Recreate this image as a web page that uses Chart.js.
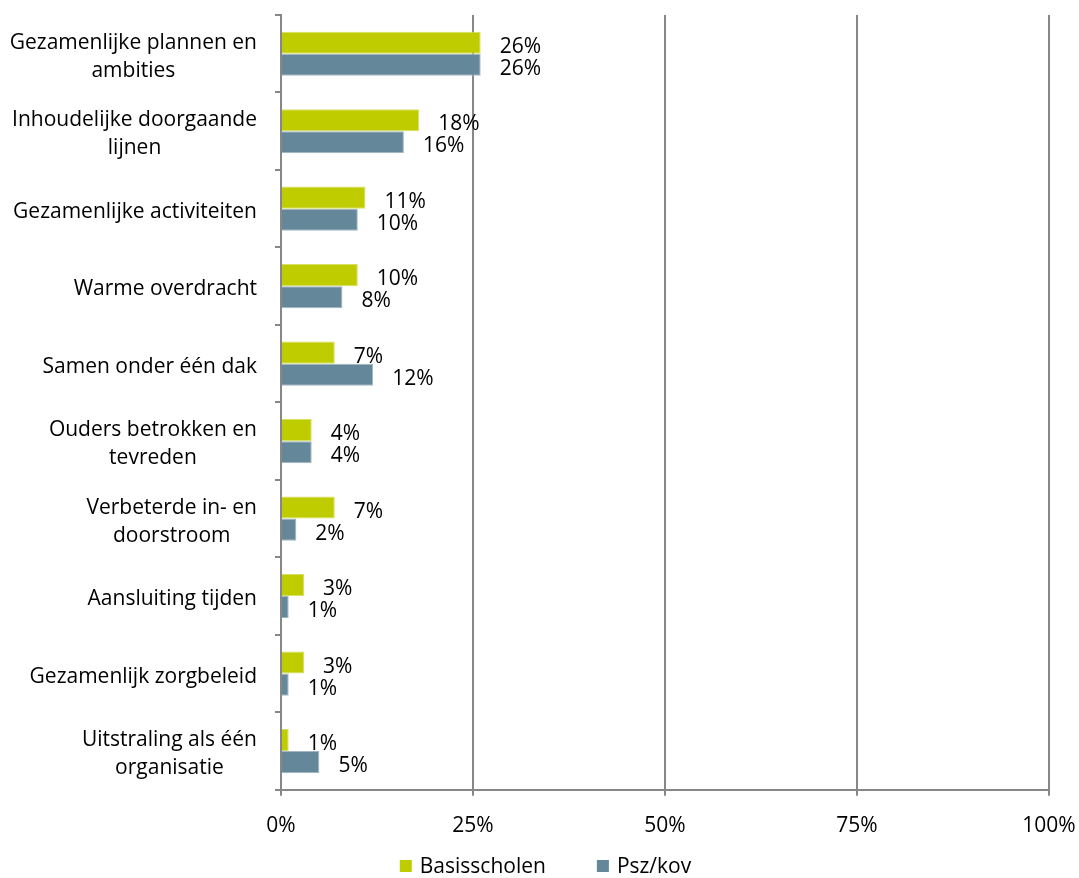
<!DOCTYPE html>
<html lang="nl">
<head>
    <meta charset="UTF-8">
    <title>Resultaten samenwerking</title>
    <script src="https://cdn.jsdelivr.net/npm/chart.js@4.4.1/dist/chart.umd.min.js"></script>
    <style>
        * {
            margin: 0;
            padding: 0;
            box-sizing: border-box;
        }

        body {
            background: #ffffff;
        }

        .container {
            position: relative;
            width: 1079px;
            height: 878px;
        }
    </style>
</head>
<body>
    <div class="container">
        <canvas id="chart"></canvas>
    </div>
    <script>
        const categories = [
            ["Gezamenlijke plannen en", "ambities"],
            ["Inhoudelijke doorgaande", "lijnen"],
            "Gezamenlijke activiteiten",
            "Warme overdracht",
            "Samen onder één dak",
            ["Ouders betrokken en", "tevreden"],
            ["Verbeterde in- en", "doorstroom"],
            "Aansluiting tijden",
            "Gezamenlijk zorgbeleid",
            ["Uitstraling als één", "organisatie"]
        ];
        const basisscholen = [26, 18, 11, 10, 7, 4, 7, 3, 3, 1];
        const pszKov = [26, 16, 10, 8, 12, 4, 2, 1, 1, 5];
        const xTicks = [0, 25, 50, 75, 100];

        const FONT = "'Open Sans', sans-serif";
        const FONT_SIZE = 21;
        const GREY = "#878787";

        // y labels: block right aligned, lines centred inside the block (like Excel)
        const categoryLabels = {
            id: "categoryLabels",
            afterDraw(chart) {
                const ctx = chart.ctx;
                const y = chart.scales.y;
                const right = chart.chartArea.left - 24;
                const lineH = 28;
                ctx.save();
                ctx.font = FONT_SIZE + "px " + FONT;
                ctx.fillStyle = "#000000";
                ctx.textAlign = "center";
                ctx.textBaseline = "middle";
                categories.forEach((label, i) => {
                    const lines = Array.isArray(label) ? label : [label];
                    const w = Math.max(...lines.map(l => ctx.measureText(l).width));
                    const cx = right - w / 2;
                    const cy = y.getPixelForValue(i) + 3;
                    const top = cy - (lines.length - 1) * lineH / 2;
                    lines.forEach((l, j) => ctx.fillText(l, cx, top + j * lineH));
                });
                ctx.restore();
            }
        };

        // value labels just past the end of each bar
        const valueLabels = {
            id: "valueLabels",
            afterDatasetsDraw(chart) {
                const ctx = chart.ctx;
                ctx.save();
                ctx.font = FONT_SIZE + "px " + FONT;
                ctx.fillStyle = "#000000";
                ctx.textAlign = "left";
                ctx.textBaseline = "middle";
                chart.data.datasets.forEach((ds, di) => {
                    chart.getDatasetMeta(di).data.forEach((bar, i) => {
                        ctx.fillText(ds.data[i] + "%", bar.x + 19, bar.y + 4);
                    });
                });
                ctx.restore();
            }
        };

        // legend drawn by hand so the gap between items can differ from its height
        const bottomLegend = {
            id: "bottomLegend",
            afterDraw(chart) {
                const ctx = chart.ctx;
                const box = 12, gapText = 8, gapItem = 51;
                const y = 866;
                ctx.save();
                ctx.font = FONT_SIZE + "px " + FONT;
                ctx.textBaseline = "middle";
                ctx.textAlign = "left";
                const items = chart.data.datasets.map(ds => ({
                    text: ds.label,
                    color: ds.backgroundColor,
                    w: ctx.measureText(ds.label).width
                }));
                const total = items.reduce((s, it) => s + box + gapText + it.w, 0) + gapItem * (items.length - 1);
                let x = chart.width / 2 - total / 2 + 6;
                items.forEach(it => {
                    ctx.fillStyle = it.color;
                    ctx.fillRect(x, y - box / 2, box, box);
                    ctx.fillStyle = "#000000";
                    ctx.fillText(it.text, x + box + gapText, y + 1);
                    x += box + gapText + it.w + gapItem;
                });
                ctx.restore();
            }
        };

        new Chart(document.getElementById("chart"), {
            type: "bar",
            data: {
                labels: categories,
                datasets: [
                    {
                        label: "Basisscholen",
                        data: basisscholen,
                        backgroundColor: "#bfcc00",
                        borderColor: "#d6df66",
                        borderWidth: 1,
                        categoryPercentage: 0.57,
                        barPercentage: 1
                    },
                    {
                        label: "Psz/kov",
                        data: pszKov,
                        backgroundColor: "#64879a",
                        borderColor: "#a2b7c2",
                        borderWidth: 1,
                        categoryPercentage: 0.57,
                        barPercentage: 1
                    }
                ]
            },
            options: {
                indexAxis: "y",
                responsive: true,
                maintainAspectRatio: false,
                animation: false,
                layout: {
                    padding: { top: 15, left: 0, right: 30, bottom: 21 }
                },
                scales: {
                    x: {
                        min: 0,
                        max: 100,
                        afterBuildTicks: scale => {
                            scale.ticks = xTicks.map(v => ({ value: v }));
                        },
                        afterFit: scale => {
                            scale.paddingRight = 0;
                        },
                        ticks: {
                            callback: v => v + "%",
                            color: "#000000",
                            font: { family: FONT, size: FONT_SIZE },
                            padding: 18,
                            maxRotation: 0
                        },
                        grid: {
                            color: GREY,
                            lineWidth: 2,
                            tickLength: 6
                        },
                        border: { color: GREY, width: 2 }
                    },
                    y: {
                        afterFit: scale => {
                            scale.width = 281;
                        },
                        ticks: { display: false },
                        grid: {
                            drawOnChartArea: false,
                            color: GREY,
                            lineWidth: 2,
                            tickLength: 6,
                            offset: true
                        },
                        border: { color: GREY, width: 2 }
                    }
                },
                plugins: {
                    legend: { display: false },
                    tooltip: { enabled: false }
                }
            },
            plugins: [categoryLabels, valueLabels, bottomLegend]
        });
    </script>
</body>
</html>
